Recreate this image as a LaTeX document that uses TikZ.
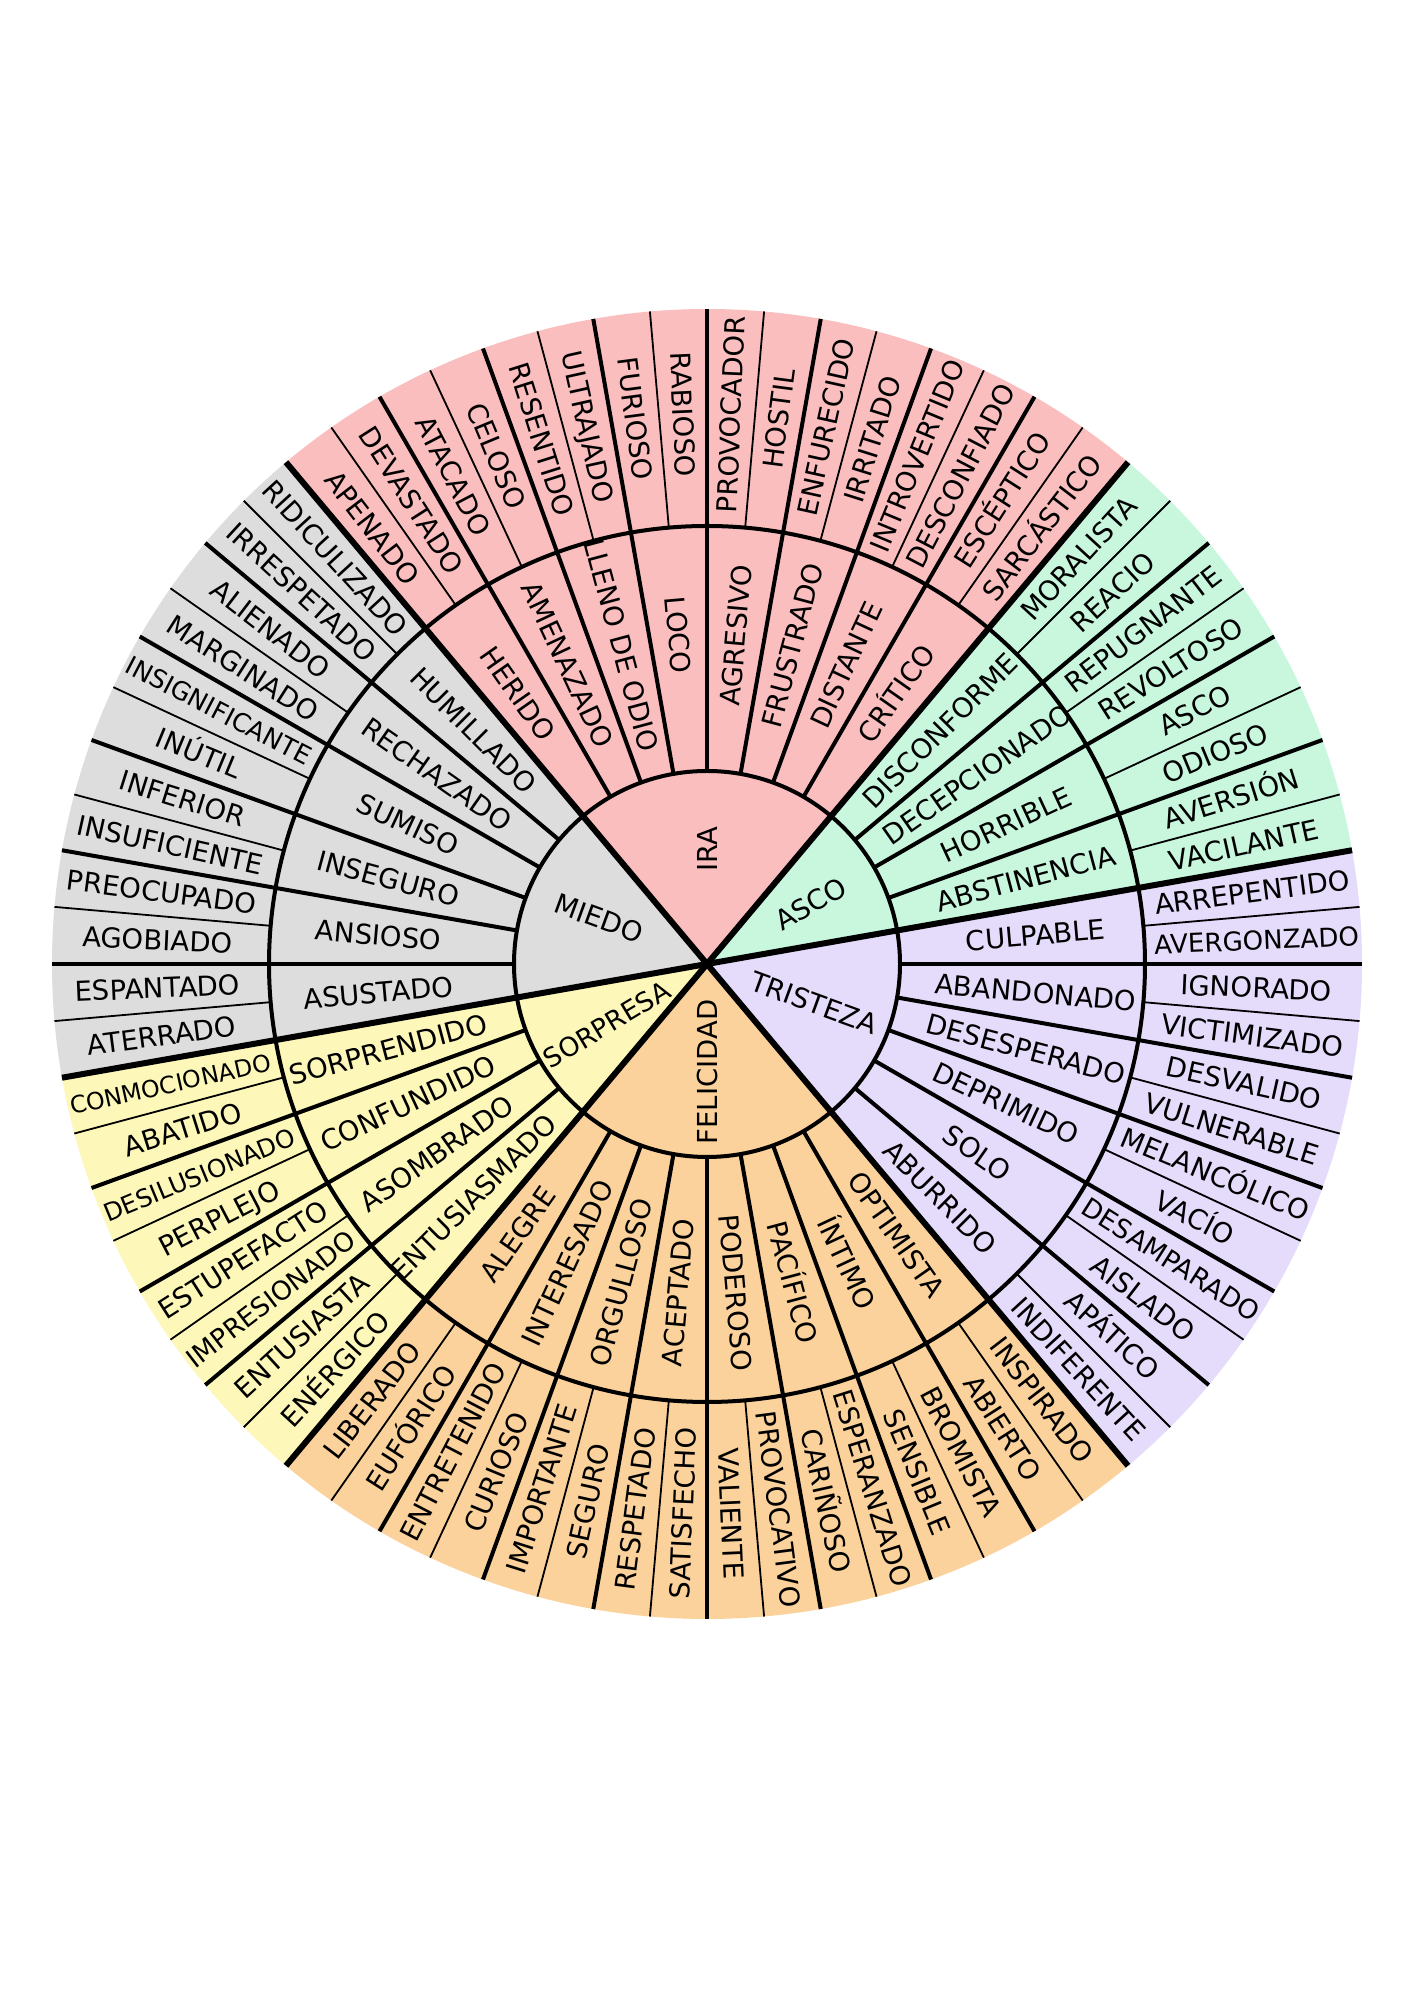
\documentclass[tikz,border=0pt]{standalone}
\usepackage{fontspec}
\setmainfont{DejaVu Sans}
\usepackage{graphicx}
\definecolor{ira}{RGB}{250,190,190}
\definecolor{asco}{RGB}{200,247,222}
\definecolor{tris}{RGB}{229,219,250}
\definecolor{feli}{RGB}{251,210,155}
\definecolor{sorp}{RGB}{253,248,185}
\definecolor{miedo}{RGB}{221,221,221}
\newsavebox\lblbox
\newcommand\fitlbl[2]{\sbox\lblbox{#2}\ifdim\wd\lblbox>#1\relax\resizebox{#1}{!}{\usebox\lblbox}\else\usebox\lblbox\fi}
\begin{document}
\begin{tikzpicture}[x=1pt,y=1pt,
  lbl/.style={font=\fontsize{27.5}{33}\selectfont, inner sep=0pt, text height=20pt, text depth=0pt, text=black},
  corelbl/.style={font=\fontsize{27.5}{33}\selectfont, inner sep=0pt, text height=20pt, text depth=0pt, text=black},
  thinline/.style={line width=1.8pt, black},
  midline/.style={line width=4pt, black},
  coreline/.style={line width=6pt, black}]
\useasboundingbox (0,0) rectangle (1414,2000);
\fill[white] (0,0) rectangle (1414,2000);
\begin{scope}[shift={(707,1036)}]
% sectors
\foreach \c/\s/\e in {ira/50/130, asco/10/50, tris/-50/10, feli/-130/-50, sorp/190/230, miedo/130/190}
  \fill[\c] (0,0) -- (\s:655) arc[start angle=\s, end angle=\e, radius=655] -- cycle;
% thin lines between outer items
\foreach \k in {0,...,35} {
  \pgfmathsetmacro\a{\k*10+5}
  \draw[thinline] (\a:438) -- (\a:655);
}
% middle boundaries
\foreach \a in {0,20,30,40,60,70,80,90,100,110,120,140,150,160,170,180,200,210,220,240,250,260,270,280,290,300,320,330,340,350}
  \draw[midline] (\a:193) -- (\a:655);
% circles
\draw[midline] (0,0) circle[radius=193];
\draw[midline] (0,0) circle[radius=438];
% core boundaries
\foreach \a in {10,50,130,190,230,310}
  \draw[coreline] (0,0) -- (\a:655);
% core labels
\node[corelbl, rotate=90] (cira) at (90:115) {IRA};
\node[corelbl, rotate=30] (casco) at (30:120) {ASCO};
\node[corelbl, rotate=-20] (ctris) at (-20:114) {TRISTEZA};
\node[corelbl, rotate=90] (cfeli) at (-90:108) {FELICIDAD};
\node[corelbl, rotate=31, font=\fontsize{26.5}{32}\selectfont] (csorp) at (-149:117) {SORPRESA};
\node[corelbl, rotate=-20] (cmiedo) at (157:117) {MIEDO};
% middle labels
\foreach \a/\t [count=\i] in {125/HERIDO,115/AMENAZADO,105/LLENO DE ODIO,95/LOCO,85/AGRESIVO,75/FRUSTRADO,65/DISTANTE,55/CRÍTICO,45/DISCONFORME,35/DECEPCIONADO,25/HORRIBLE,15/ABSTINENCIA,5/CULPABLE,-5/ABANDONADO,-15/DESESPERADO,-25/DEPRIMIDO,-35/SOLO,-45/ABURRIDO,-55/OPTIMISTA,-65/ÍNTIMO,-75/PACÍFICO,-85/PODEROSO,-95/ACEPTADO,-105/ORGULLOSO,-115/INTERESADO,-125/ALEGRE,225/ENTUSIASMADO,215/ASOMBRADO,205/CONFUNDIDO,195/SORPRENDIDO,185/ASUSTADO,175/ANSIOSO,165/INSEGURO,155/SUMISO,145/RECHAZADO,135/HUMILLADO} {
  \pgfmathsetmacro\rot{cos(\a)<0 ? \a+180 : \a}
  \node[lbl, rotate=\rot] (m\i) at (\a:330) {\fitlbl{228pt}{\t}};
}
% outer labels
\foreach \a/\t [count=\i] in {127.5/APENADO,122.5/DEVASTADO,117.5/ATACADO,112.5/CELOSO,107.5/RESENTIDO,102.5/ULTRAJADO,97.5/FURIOSO,92.5/RABIOSO,87.5/PROVOCADOR,82.5/HOSTIL,77.5/ENFURECIDO,72.5/IRRITADO,67.5/INTROVERTIDO,62.5/DESCONFIADO,57.5/ESCÉPTICO,52.5/SARCÁSTICO,47.5/MORALISTA,42.5/REACIO,37.5/REPUGNANTE,32.5/REVOLTOSO,27.5/ASCO,22.5/ODIOSO,17.5/AVERSIÓN,12.5/VACILANTE,7.5/ARREPENTIDO,2.5/AVERGONZADO,-2.5/IGNORADO,-7.5/VICTIMIZADO,-12.5/DESVALIDO,-17.5/VULNERABLE,-22.5/MELANCÓLICO,-27.5/VACÍO,-32.5/DESAMPARADO,-37.5/AISLADO,-42.5/APÁTICO,-47.5/INDIFERENTE,-52.5/INSPIRADO,-57.5/ABIERTO,-62.5/BROMISTA,-67.5/SENSIBLE,-72.5/ESPERANZADO,-77.5/CARIÑOSO,-82.5/PROVOCATIVO,-87.5/VALIENTE,-92.5/SATISFECHO,-97.5/RESPETADO,-102.5/SEGURO,-107.5/IMPORTANTE,-112.5/CURIOSO,-117.5/ENTRETENIDO,-122.5/EUFÓRICO,-127.5/LIBERADO,227.5/ENÉRGICO,222.5/ENTUSIASTA,217.5/IMPRESIONADO,212.5/ESTUPEFACTO,207.5/PERPLEJO,202.5/DESILUSIONADO,197.5/ABATIDO,192.5/CONMOCIONADO,187.5/ATERRADO,182.5/ESPANTADO,177.5/AGOBIADO,172.5/PREOCUPADO,167.5/INSUFICIENTE,162.5/INFERIOR,157.5/INÚTIL,152.5/INSIGNIFICANTE,147.5/MARGINADO,142.5/ALIENADO,137.5/IRRESPETADO,132.5/RIDICULIZADO} {
  \pgfmathsetmacro\rot{cos(\a)<0 ? \a+180 : \a}
  \node[lbl, rotate=\rot] (o\i) at (\a:550) {\fitlbl{205pt}{\t}};
}
\end{scope}
\end{tikzpicture}
\end{document}
